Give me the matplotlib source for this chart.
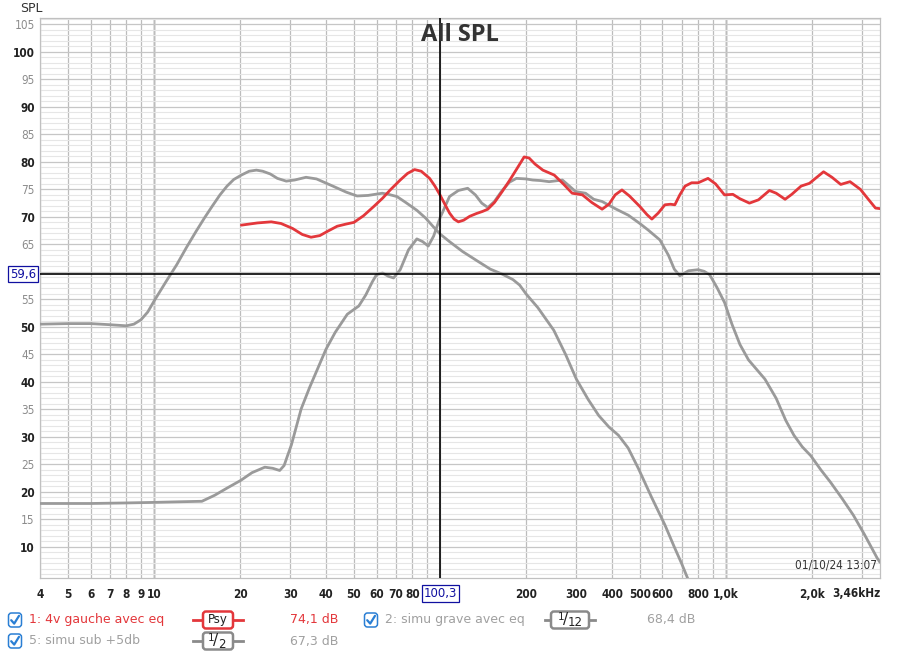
import numpy as np
import matplotlib
matplotlib.use("Agg")
import matplotlib.pyplot as plt
from matplotlib.patches import FancyBboxPatch
import matplotlib.transforms as mtransforms

# curve 1: 4v gauche avec eq (red)
f_red = [20.2, 23, 25.7, 27.8, 30.5, 33, 35.4, 38, 40.5, 43.7, 47, 50, 54, 58.7, 63, 67,
         72.6, 77, 81.5, 86, 92, 96, 100, 104, 108, 112, 116, 121, 127, 134, 141, 147,
         155, 165, 175, 185, 197, 205, 215, 229, 251, 270, 290, 315, 340, 369, 390, 410,
         433, 460, 500, 530, 551, 580, 612, 640, 663, 690, 720, 759, 800, 866, 920, 989,
         1058, 1120, 1209, 1300, 1420, 1500, 1611, 1700, 1833, 1960, 2080, 2196, 2350,
         2522, 2718, 2955, 3150, 3337, 3460]
spl_red = [68.5, 68.9, 69.1, 68.8, 67.9, 66.8, 66.3, 66.6, 67.4, 68.3, 68.7, 69.0, 70.2,
           71.9, 73.4, 74.9, 76.7, 77.9, 78.6, 78.3, 77.0, 75.6, 74.0, 72.3, 70.7, 69.6,
           69.1, 69.4, 70.1, 70.6, 71.0, 71.4, 72.6, 74.6, 76.6, 78.6, 80.9, 80.7, 79.6,
           78.5, 77.6, 76.0, 74.3, 74.0, 72.6, 71.4, 72.3, 74.0, 74.9, 73.8, 71.9, 70.4,
           69.6, 70.7, 72.2, 72.3, 72.2, 74.0, 75.6, 76.2, 76.2, 77.0, 76.0, 74.0, 74.1,
           73.3, 72.5, 73.1, 74.8, 74.3, 73.2, 74.1, 75.6, 76.1, 77.2, 78.2, 77.2, 75.9,
           76.4, 75.0, 73.2, 71.6, 71.5]

# curve 2: simu grave avec eq (grey)
f_grave = [4, 6, 8, 10, 12, 14.7, 16.3, 18, 20.1, 22, 24.4, 26, 27.5, 28.5, 29.3, 30.2,
           31.5, 32.7, 35, 39.9, 43, 47.4, 52, 55, 58, 60, 63, 66, 68.8, 72.6, 77.6, 83,
           87, 91, 95, 100, 108, 116, 125, 133, 140, 147, 155, 165, 175, 185, 200, 211,
           225, 241, 268, 285, 298, 323, 345, 369, 410, 456, 500, 535, 588, 630, 660, 690,
           740, 800, 840, 877, 930, 990, 1050, 1120, 1200, 1370, 1500, 1620, 1730, 1850,
           1980, 2150, 2320, 2550, 2790, 3050, 3380, 3460]
spl_grave = [17.9, 17.9, 18.0, 18.1, 18.2, 18.3, 19.4, 20.7, 22.1, 23.5, 24.5, 24.3, 23.9,
             24.8, 26.6, 28.5, 32.0, 35.1, 39.0, 45.9, 49.0, 52.3, 53.8, 55.8, 58.2, 59.5,
             59.8, 59.2, 58.9, 60.4, 64.0, 66.0, 65.5, 64.7, 66.5, 69.8, 73.7, 74.8, 75.2,
             74.0, 72.5, 71.7, 72.8, 74.8, 76.3, 77.0, 76.9, 76.7, 76.6, 76.4, 76.7, 75.5,
             74.6, 74.3, 73.2, 72.8, 71.5, 70.3, 68.8, 67.6, 65.8, 63.0, 60.5, 59.3, 60.2,
             60.4, 60.1, 59.5, 57.2, 54.4, 50.5, 46.8, 44.0, 40.5, 37.0, 33.0, 30.3, 28.2,
             26.6, 24.0, 21.8, 18.8, 15.8, 12.3, 8.0, 7.2]

# curve 5: simu sub +5db (grey)
f_sub = [4, 5, 6, 7, 8, 8.5, 9, 9.5, 10, 11, 12, 13, 14, 15, 16, 17, 18, 19, 20.2, 21.5,
         22.8, 24, 25.5, 27, 29, 31, 34, 37, 42.6, 47, 51.3, 56, 62.8, 66, 70.7, 76, 83,
         89, 94.8, 100, 108, 120, 135, 150, 165, 180, 190, 200, 220, 250, 275, 300, 330,
         359, 390, 421, 455, 495, 550, 612, 660, 700, 735]
spl_sub = [50.5, 50.6, 50.6, 50.4, 50.2, 50.5, 51.3, 52.7, 54.7, 58.2, 61.3, 64.5, 67.3,
           69.8, 72.0, 74.0, 75.6, 76.8, 77.6, 78.3, 78.5, 78.3, 77.8, 77.0, 76.5, 76.7,
           77.2, 76.9, 75.5, 74.5, 73.8, 73.9, 74.3, 74.1, 73.7, 72.6, 71.2, 69.8, 68.2,
           66.9, 65.5, 63.7, 62.0, 60.5, 59.6, 58.6, 57.6, 56.0, 53.5, 49.4, 45.0, 40.5,
           36.8, 33.9, 31.8, 30.3, 28.0, 24.2, 19.0, 14.0, 10.0, 7.0, 4.3]

# x tick labels
x_ticks = [4, 5, 6, 7, 8, 9, 10, 20, 30, 40, 50, 60, 70, 80, 90, 100, 200, 300, 400, 500,
           600, 700, 800, 900, 1000, 2000, 3000]
x_labels = ['4', '5', '6', '7', '8', '9', '10', '20', '30', '40', '50', '60', '70', '80',
            '', '', '200', '300', '400', '500', '600', '', '800', '', '1,0k', '2,0k', '']

cursor_f = 100.3
cursor_db = 59.6

RED = '#e3373b'
GREY = '#9a9a9a'

fig = plt.figure(figsize=(9, 6.53), dpi=100)
ax = fig.add_axes([40.3 / 900, 1 - 578.3 / 653, (880 - 40.3) / 900, (578.3 - 18.3) / 653])
ax.set_xscale('log')
ax.set_xlim(4.0, 3460)
ax.set_ylim(4.3, 106.1)

ax.set_xticks(x_ticks)
ax.set_xticklabels(x_labels)
ax.xaxis.set_minor_locator(matplotlib.ticker.NullLocator())
ax.set_yticks(np.arange(10, 106, 5))
ax.set_yticklabels([('' if v == 60 else str(v)) for v in range(10, 106, 5)])
ax.set_yticks(np.arange(5, 107, 1), minor=True)
ax.tick_params(which='both', length=0)
ax.tick_params(axis='x', pad=7)
ax.tick_params(axis='y', pad=4)
for lab, v in zip(ax.get_yticklabels(), range(10, 106, 5)):
    lab.set_fontsize(8.5)
    lab.set_fontstretch('condensed')
    if v % 10 == 0:
        lab.set_color('#222222')
        lab.set_fontweight('bold')
    else:
        lab.set_color('#8c8c8c')
for lab in ax.get_xticklabels():
    lab.set_fontsize(8.5)
    lab.set_fontweight('bold')
    lab.set_color('#222222')
    lab.set_fontstretch('condensed')

ax.grid(which='major', axis='x', color='#bcbcbc', lw=0.9)
ax.grid(which='major', axis='y', color='#c6c6c6', lw=0.9)
ax.grid(which='minor', axis='y', color='#e6e6e6', lw=0.8)
ax.axvline(10, color='#707070', lw=1.0, zorder=1)
ax.axvline(1000, color='#707070', lw=1.0, zorder=1)
for s in ax.spines.values():
    s.set_color('#c0c0c0')
    s.set_linewidth(0.9)

ax.plot(f_sub, spl_sub, color=GREY, lw=2, zorder=3, solid_capstyle='round', solid_joinstyle='round')
ax.plot(f_grave, spl_grave, color=GREY, lw=2, zorder=3, solid_capstyle='round', solid_joinstyle='round')
ax.plot(f_red, spl_red, color=RED, lw=2, zorder=4, solid_capstyle='round', solid_joinstyle='round')

ax.axvline(cursor_f, color='black', lw=1.2, zorder=5)
ax.axhline(cursor_db, color='black', lw=1.2, zorder=5)

ax.text(0.5, 1 - 16.5 / 560, 'All SPL', transform=ax.transAxes, ha='center', va='center',
        fontsize=17, fontweight='bold', family='Open Sans', color='#333333', zorder=6)
ax.text(0.997, 0.012, '01/10/24 13:07', transform=ax.transAxes, ha='right', va='bottom',
        fontsize=8.5, color='#333333', fontstretch='condensed', zorder=6)

box = dict(boxstyle='square,pad=0.15', fc='white', ec='#1010a0', lw=0.9)
ax.text(-0.005, cursor_db, '59,6', transform=mtransforms.blended_transform_factory(ax.transAxes, ax.transData),
        ha='right', va='center', fontsize=8.5, color='#1010a0', bbox=box, clip_on=False, zorder=7)
ax.text(cursor_f, -0.027, '100,3', transform=mtransforms.blended_transform_factory(ax.transData, ax.transAxes),
        ha='center', va='center', fontsize=8.5, color='#1010a0', bbox=box, clip_on=False, zorder=7)
ax.text(1.0, -0.027, '3,46kHz', transform=ax.transAxes, ha='right', va='center', fontsize=8.5,
        color='#222222', fontweight='bold', fontstretch='condensed', clip_on=False)

# overlay in pixel coordinates for labels/legend
ov = fig.add_axes([0, 0, 1, 1])
ov.set_xlim(0, 900)
ov.set_ylim(653, 0)
ov.axis('off')
ov.text(20, 9, 'SPL', fontsize=9, color='#333333', va='center', ha='left')


def checkbox(x, y):
    ov.add_patch(FancyBboxPatch((x - 6.5, y - 7), 13, 14, boxstyle='round,pad=0,rounding_size=3',
                                fc='white', ec='#2a7fd4', lw=1.1))
    ov.plot([x - 3.8, x - 0.8, x + 4.0], [y + 0.2, y + 3.6, y - 4.2], color='#2a7fd4', lw=1.6,
            solid_capstyle='round')


def smooth_box(xc, y, color, label):
    ov.plot([xc - 25, xc + 25], [y, y], color=color, lw=2)
    w = 38 if label == '1/12' else 30
    ov.add_patch(FancyBboxPatch((xc - w / 2, y - 8.5), w, 17, boxstyle='round,pad=0,rounding_size=3',
                                fc='white', ec=color, lw=1.8, zorder=3))
    if '/' in label:
        num, den = label.split('/')
        off = -4 if den == '12' else -2
        ov.text(xc + off, y - 0.5, '/', ha='center', va='center', fontsize=11, color='#222222', zorder=4)
        ov.text(xc + off - 1.5, y - 3, num, ha='right', va='center', fontsize=7.5, color='#222222', zorder=4)
        ov.text(xc + off + 2, y + 3, den, ha='left', va='center', fontsize=8.5, color='#222222', zorder=4)
    else:
        ov.text(xc, y, label, ha='center', va='center', fontsize=8.5, color='#222222', zorder=4)


rows = [
    (15, 620, '1: 4v gauche avec eq', RED, 218, 'Psy', 290, '74,1 dB'),
    (371, 620, '2: simu grave avec eq', '#a0a0a0', 570, '1/12', 647, '68,4 dB'),
    (15, 641, '5: simu sub +5db', '#a0a0a0', 218, '1/2', 290, '67,3 dB'),
]
for cx, cy, name, col, bx, blabel, vx, val in rows:
    checkbox(cx, cy)
    ov.text(cx + 14, cy, name, fontsize=9, color=col, va='center', ha='left')
    bcol = RED if col == RED else '#8a8a8a'
    smooth_box(bx, cy, bcol, blabel)
    ov.text(vx, cy, val, fontsize=9, color=col, va='center', ha='left')

fig.savefig('out.png', dpi=100)
